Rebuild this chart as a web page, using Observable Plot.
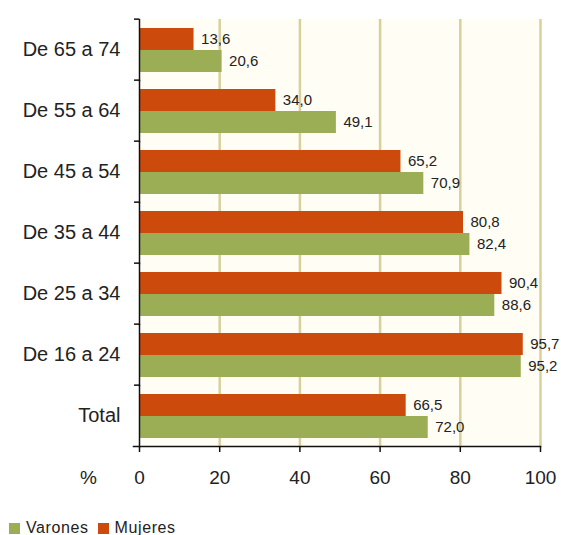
<!DOCTYPE html>
<html>
<head>
<meta charset="utf-8">
<script src="https://cdn.jsdelivr.net/npm/d3@7"></script>
<script src="https://cdn.jsdelivr.net/npm/@observablehq/plot@0.6"></script>
<style>
  body { margin: 0; background: #fff; font-family: "Liberation Sans", Arial, sans-serif; }
  #legend { display: flex; align-items: center; margin: 20px 0 0 9px; font-size: 16px; letter-spacing: 0.6px; color: #222; line-height: 16px; }
  #legend .sw { width: 11px; height: 11px; display: inline-block; margin-right: 6px; }
  #legend .item { display: flex; align-items: center; margin-right: 9px; }
</style>
</head>
<body>
<div id="chart"></div>
<script>
const categories = ["De 65 a 74", "De 55 a 64", "De 45 a 54", "De 35 a 44", "De 25 a 34", "De 16 a 24", "Total"];
const mujeres = [13.6, 34.0, 65.2, 80.8, 90.4, 95.7, 66.5];
const varones = [20.6, 49.1, 70.9, 82.4, 88.6, 95.2, 72.0];
const seriesNames = ["Varones", "Mujeres"];
const seriesColors = ["#9bae55", "#cc4a0c"];
const xTicks = [0, 20, 40, 60, 80, 100];

const data = categories.flatMap((c, i) => [
  {cat: c, serie: "Mujeres", value: mujeres[i]},
  {cat: c, serie: "Varones", value: varones[i]}
]);

const W = 561, H = 500, mT = 16, mB = 52, mL = 139, mR = 21;
const step = (H - mT - mB) / categories.length;
const fmt = v => v.toFixed(1).replace(".", ",");

const chart = Plot.plot({
  width: W, height: H,
  marginTop: mT, marginBottom: mB, marginLeft: mL, marginRight: mR,
  style: {fontFamily: "'Liberation Sans', Arial, sans-serif", color: "#222", background: "white"},
  x: {domain: [0, 100], ticks: xTicks},
  fy: {domain: categories, padding: 0, label: null},
  y: {domain: ["Mujeres", "Varones"], paddingInner: 0, paddingOuter: 0.37, axis: null},
  color: {domain: seriesNames, range: seriesColors},
  marks: [
    Plot.frame({fill: "#fffdf4", stroke: null}),
    Plot.ruleX(xTicks.slice(1), {stroke: "#d8d09c", strokeWidth: 2.5}),
    Plot.barX(data, {fy: "cat", y: "serie", x: "value", fill: "serie"}),
    Plot.text(data, {fy: "cat", y: "serie", x: "value", text: d => fmt(d.value), textAnchor: "start", dx: 7, fontSize: 15, fill: "#222"}),
    Plot.axisFy({anchor: "left", tickSize: 0, tickPadding: 19, fontSize: 20, label: null}),
    Plot.axisFy({anchor: "left", tickSize: 5, tickFormat: () => "", dy: -step / 2, stroke: "#111", strokeWidth: 1.5, label: null}),
    Plot.frame({anchor: "left", stroke: "#111", strokeWidth: 1.5}),
    Plot.frame({anchor: "bottom", stroke: "#111", strokeWidth: 1.5, insetLeft: -6, facetAnchor: "bottom"}),
    Plot.axisX({anchor: "bottom", ticks: xTicks, tickSize: 6, tickPadding: 18, fontSize: 19, stroke: "#111", strokeWidth: 1.5, label: null}),
    Plot.text(["%"], {fy: ["Total"], text: d => d, frameAnchor: "bottom-left", lineAnchor: "top", dx: -51, dy: 24, fontSize: 19, textAnchor: "middle", fill: "#222"})
  ]
});
document.getElementById("chart").append(chart);

const legend = document.createElement("div");
legend.id = "legend";
seriesNames.forEach((name, i) => {
  const item = document.createElement("span");
  item.className = "item";
  const sw = document.createElement("span");
  sw.className = "sw";
  sw.style.background = seriesColors[i];
  item.append(sw, document.createTextNode(name));
  legend.append(item);
});
document.body.append(legend);
</script>
</body>
</html>
